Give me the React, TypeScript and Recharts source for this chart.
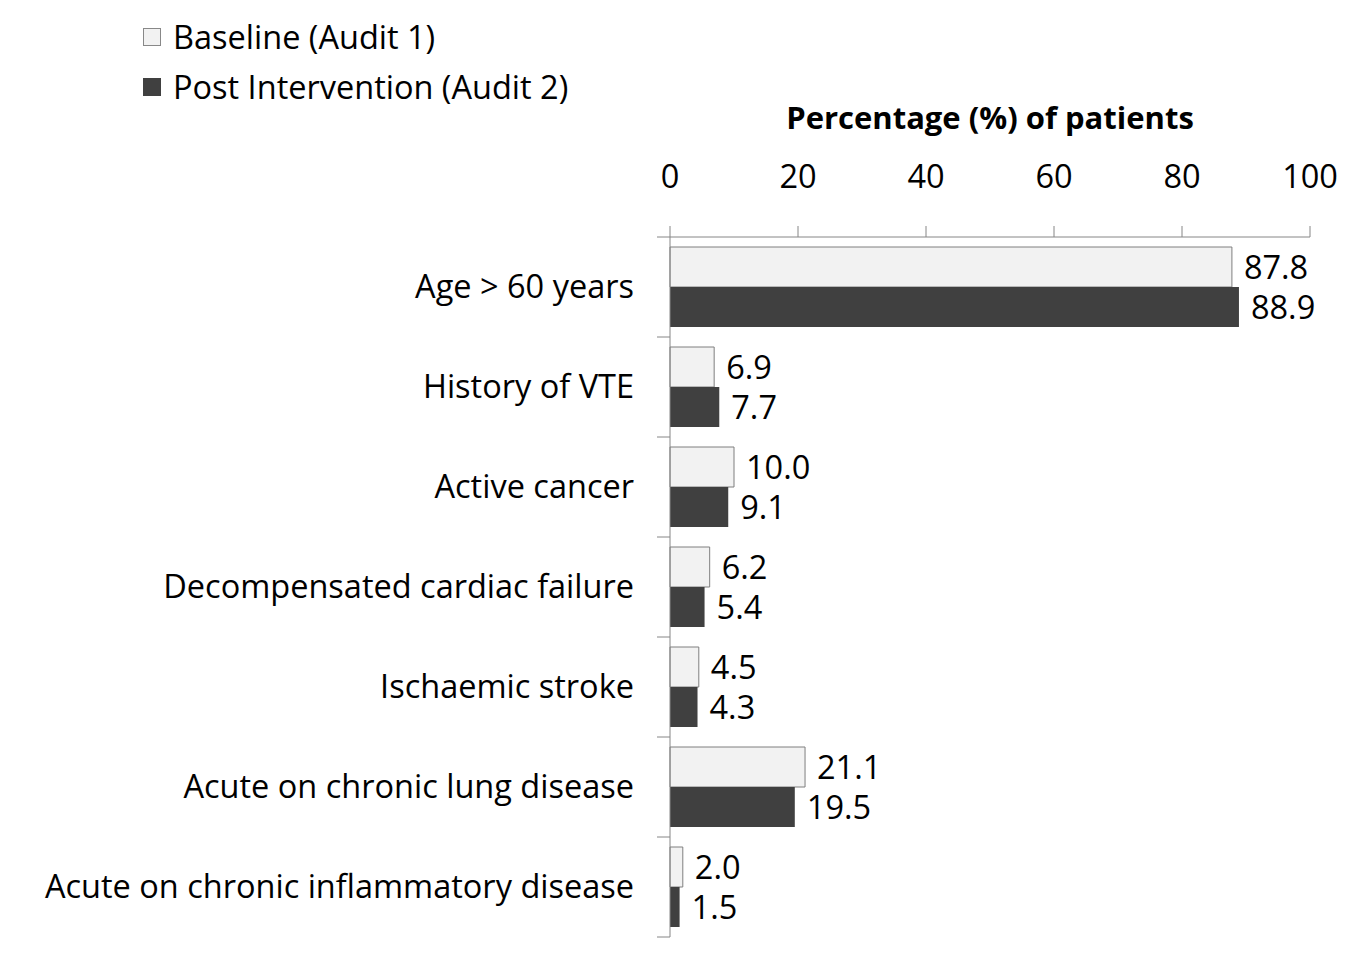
import React from 'react';
import { BarChart, Bar, XAxis, YAxis, LabelList } from 'recharts';

const categories = [
  'Age > 60 years',
  'History of VTE',
  'Active cancer',
  'Decompensated cardiac failure',
  'Ischaemic stroke',
  'Acute on chronic lung disease',
  'Acute on chronic inflammatory disease',
];
const baseline = [87.8, 6.9, 10.0, 6.2, 4.5, 21.1, 2.0];
const postIntervention = [88.9, 7.7, 9.1, 5.4, 4.3, 19.5, 1.5];
const xTicks = [0, 20, 40, 60, 80, 100];

const data = categories.map((name, i) => ({
  name,
  baseline: baseline[i],
  post: postIntervention[i],
}));

const FONT = '"Open Sans", "Noto Sans", sans-serif';
const FS = 32.5;
const W = 1352;
const H = 963;
const M = { top: 0, right: 42, bottom: 26, left: 0 };
const X_AXIS_H = 237;
const Y_AXIS_W = 670;
const BAND = (H - M.top - M.bottom - X_AXIS_H) / categories.length;
const AXIS_GRAY = '#868686';

const CategoryTick = (props: any) => {
  const { x, y, payload, index } = props;
  const ax = x + 36;
  return (
    <g>
      <line x1={ax - 13} x2={ax} y1={y - BAND / 2} y2={y - BAND / 2} stroke={AXIS_GRAY} />
      {index === categories.length - 1 && (
        <line x1={ax - 13} x2={ax} y1={y + BAND / 2} y2={y + BAND / 2} stroke={AXIS_GRAY} />
      )}
      <text x={x} y={y} dy={11} textAnchor="end" fontSize={FS} fill="#000" fontFamily={FONT}>
        {payload.value}
      </text>
    </g>
  );
};

const fmt = (v: any) => Number(v).toFixed(1);

export default function App() {
  return (
    <div style={{ position: 'absolute', left: 0, top: 0, width: W, height: H, background: '#fff', fontFamily: FONT }}>
      {/* legend */}
      <div style={{ position: 'absolute', left: 143, top: 12, fontSize: FS, lineHeight: '50px', color: '#000' }}>
        <div style={{ display: 'flex', alignItems: 'center' }}>
          <span style={{ width: 16, height: 16, background: '#f2f2f2', border: '1px solid #888', marginRight: 12 }} />
          Baseline (Audit 1)
        </div>
        <div style={{ display: 'flex', alignItems: 'center' }}>
          <span style={{ width: 18, height: 18, background: '#404040', marginRight: 12 }} />
          Post Intervention (Audit 2)
        </div>
      </div>
      {/* axis title */}
      <div
        style={{
          position: 'absolute',
          left: Y_AXIS_W,
          width: W - Y_AXIS_W - M.right,
          top: 96,
          textAlign: 'center',
          fontSize: 31,
          fontWeight: 'bold',
          color: '#000',
        }}
      >
        Percentage (%) of patients
      </div>
      <BarChart
        width={W}
        height={H}
        data={data}
        layout="vertical"
        margin={M}
        barCategoryGap={10}
        barGap={0}
      >
        <XAxis
          type="number"
          orientation="top"
          domain={[0, 100]}
          ticks={xTicks}
          height={X_AXIS_H}
          tickSize={11}
          tickMargin={38}
          axisLine={{ stroke: AXIS_GRAY }}
          tickLine={{ stroke: AXIS_GRAY }}
          tick={{ fontSize: FS, fill: '#000', fontFamily: FONT }}
          interval={0}
        />
        <YAxis
          type="category"
          dataKey="name"
          width={Y_AXIS_W}
          tickSize={0}
          tickMargin={36}
          tickLine={false}
          axisLine={{ stroke: AXIS_GRAY }}
          tick={<CategoryTick />}
          interval={0}
        />
        <Bar dataKey="baseline" fill="#f2f2f2" stroke="#7f7f7f" strokeWidth={1} barSize={40} isAnimationActive={false}>
          <LabelList dataKey="baseline" position="right" offset={12} formatter={fmt} fill="#000" fontSize={FS} fontFamily={FONT} />
        </Bar>
        <Bar dataKey="post" fill="#404040" barSize={40} isAnimationActive={false}>
          <LabelList dataKey="post" position="right" offset={12} formatter={fmt} fill="#000" fontSize={FS} fontFamily={FONT} />
        </Bar>
      </BarChart>
    </div>
  );
}
